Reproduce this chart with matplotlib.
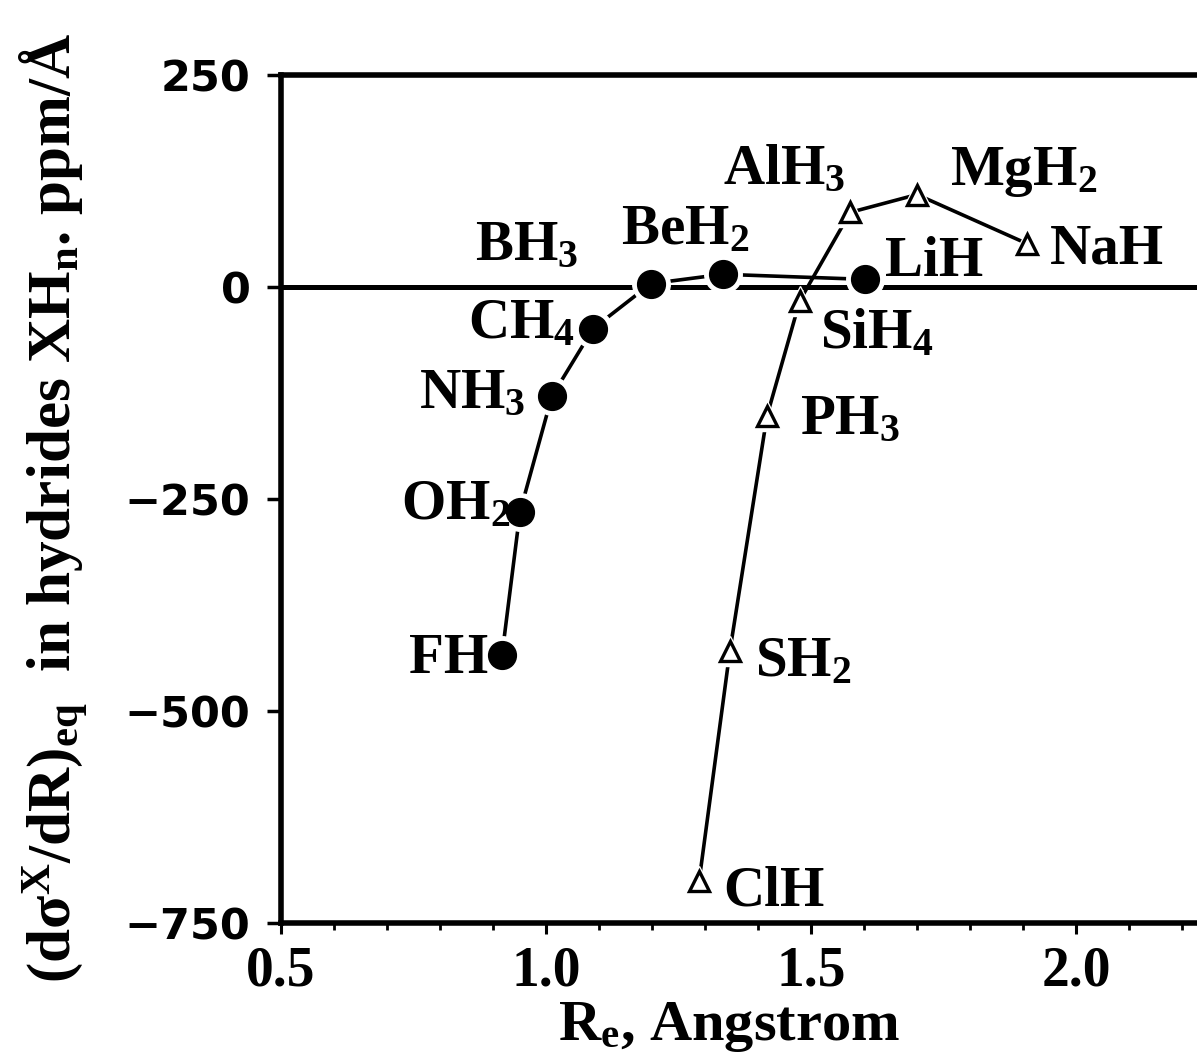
import matplotlib
matplotlib.use("Agg")
import matplotlib.pyplot as plt
from matplotlib.ticker import MultipleLocator, FixedLocator

plt.rcParams['mathtext.fontset'] = 'custom'
plt.rcParams['mathtext.rm'] = 'Liberation Serif:bold'
plt.rcParams['mathtext.it'] = 'Liberation Serif:bold'
plt.rcParams['mathtext.bf'] = 'Liberation Serif:bold'
plt.rcParams['mathtext.default'] = 'rm'

# ---- data (first-row hydrides: filled circles) ----
row1_names = ['FH', 'OH$_2$', 'NH$_3$', 'CH$_4$', 'BH$_3$', 'BeH$_2$', 'LiH']
row1_re = [0.917, 0.951, 1.011, 1.089, 1.198, 1.334, 1.602]
row1_val = [-434, -265, -129, -49, 4, 15, 9]

# ---- data (second-row hydrides: open triangles) ----
row2_names = ['ClH', 'SH$_2$', 'PH$_3$', 'SiH$_4$', 'AlH$_3$', 'MgH$_2$', 'NaH']
row2_re = [1.289, 1.347, 1.417, 1.479, 1.574, 1.700, 1.908]
row2_val = [-700, -429, -152, -16, 88, 109, 51]

# label offsets in pixels (dx, dy) and horizontal alignment
row1_off = [(-14, -18, 'right'), (-10, -7, 'right'), (-26, -12, 'right'),
            (-18, -10, 'right'), (-73, 23, 'right'), (-38, 30, 'center'),
            (20, 3, 'left')]
row2_off = [(24, -25, 'left'), (25, -25, 'left'), (33, -18, 'left'),
            (20, -48, 'left'), (-5, 28, 'right'), (33, 10, 'left'),
            (23, -20, 'left')]

xticks = [0.5, 1.0, 1.5, 2.0]
yticks = [-750, -500, -250, 0, 250]

W, H = 1197, 1064
fig = plt.figure(figsize=(W / 100, H / 100), dpi=100)
ax = fig.add_axes([281 / W, 1 - 923 / H, 1 - 281 / W, (923 - 75) / H])
ax.set_xlim(0.5, 0.5 + (W - 281) / 530)
ax.set_ylim(-750, 250)

ax.axhline(0, color='black', lw=3.6, zorder=1)

lw = 2.6
# circles
ax.plot(row1_re, row1_val, '-', color='black', lw=lw, zorder=2)
ax.plot(row1_re, row1_val, 'o', color='white', ms=27, mec='white', zorder=3)
ax.plot(row1_re, row1_val, 'o', color='black', ms=20, mec='black', zorder=4)
# triangles
ax.plot(row2_re, row2_val, '-', color='black', lw=lw, zorder=2)
ax.plot(row2_re, row2_val, '^', color='white', ms=22, mec='white', zorder=3)
ax.plot(row2_re, row2_val, '^', mfc='white', ms=15, mec='black', mew=2.4, zorder=4)

lab_font = dict(family='Liberation Serif', weight='bold', size=41)
for n, x, y, (dx, dy, ha) in zip(row1_names, row1_re, row1_val, row1_off):
    ax.annotate(n, (x, y), xytext=(dx, dy), textcoords='offset pixels',
                ha=ha, va='baseline', zorder=5, **lab_font)
for n, x, y, (dx, dy, ha) in zip(row2_names, row2_re, row2_val, row2_off):
    ax.annotate(n, (x, y), xytext=(dx, dy), textcoords='offset pixels',
                ha=ha, va='baseline', zorder=5, **lab_font)

for s in ['left', 'top', 'bottom']:
    ax.spines[s].set_linewidth(4)
ax.spines['right'].set_visible(False)

ax.xaxis.set_major_locator(FixedLocator(xticks))
ax.xaxis.set_minor_locator(MultipleLocator(0.1))
ax.yaxis.set_major_locator(FixedLocator(yticks))
ax.tick_params(axis='x', which='major', direction='out', length=8, width=2.2, pad=8)
ax.tick_params(axis='x', which='minor', direction='out', length=5, width=2)
ax.tick_params(axis='y', which='major', direction='out', length=10, width=2.5, pad=12)
ax.set_xticklabels([f'{v:.1f}' for v in xticks], fontfamily='Liberation Serif',
                   fontweight='bold', fontsize=40)
ax.set_yticklabels([f'{v:d}'.replace('-', '\u2212') for v in yticks],
                   fontfamily='DejaVu Sans', fontweight='bold', fontsize=31)

fig.text(729 / W, 1 - 1040 / H, r'R$_{\mathrm{e}}$, Angstrom', ha='center', va='baseline',
         family='Liberation Serif', weight='bold', size=42)
fig.text(54 / W, 1 - 508 / H,
         r'(d$\sigma^{\mathrm{X}}$/dR)$_{\mathrm{eq}}$  in hydrides XH$_{\mathrm{n}}$. ppm/Å',
         rotation=90, ha='center', va='center',
         family='Liberation Serif', weight='bold', size=44)

fig.savefig('out.png', dpi=100)
